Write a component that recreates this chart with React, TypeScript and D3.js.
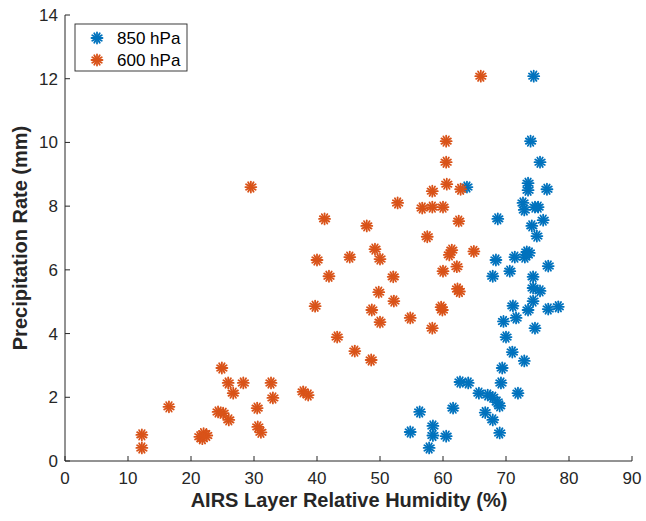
import React from "react";
import * as d3 from "d3";

const rh850: number[] = [74.4,73.9,75.4,63.8,73.5,73.5,76.5,72.7,72.9,74.6,75.1,68.7,75.9,74.1,74.9,73.3,73.0,73.7,71.4,68.4,76.7,70.6,67.9,74.3,74.3,75.4,74.3,73.5,71.1,76.7,78.3,69.6,71.6,74.6,70.0,71.0,72.9,69.4,69.2,62.7,64.0,71.9,65.7,67.1,67.9,68.6,69.0,61.6,56.3,66.7,67.9,54.8,58.4,58.4,60.5,69.0,57.8];
const pr850: number[] = [12.08,10.04,9.38,8.6,8.72,8.5,8.53,8.1,7.88,7.97,7.97,7.6,7.56,7.38,7.06,6.56,6.4,6.53,6.4,6.31,6.12,5.96,5.8,5.78,5.43,5.34,5.02,4.74,4.87,4.77,4.84,4.38,4.49,4.17,3.89,3.42,3.14,2.92,2.45,2.48,2.45,2.13,2.13,2.07,2.0,1.85,1.73,1.66,1.54,1.52,1.29,0.91,1.1,0.8,0.78,0.88,0.41];

const rh600: number[] = [66.0,60.5,60.5,60.6,58.3,62.8,29.5,52.8,56.7,58.3,60.0,62.5,41.2,47.9,57.5,61.4,61.0,64.9,49.2,50.0,40.0,45.2,41.9,52.1,60.0,62.2,49.8,52.2,48.7,50.0,62.3,62.6,59.7,59.9,54.8,58.3,39.7,43.2,46.0,48.6,37.8,38.6,24.9,25.9,26.7,28.3,32.7,33.0,16.5,24.3,25.1,26.0,30.5,30.6,31.1,21.4,22.0,22.5,21.8,12.2,12.2];
const pr600: number[] = [12.08,10.04,9.38,8.69,8.47,8.53,8.6,8.1,7.94,7.97,7.97,7.53,7.6,7.38,7.04,6.62,6.47,6.58,6.65,6.34,6.31,6.4,5.8,5.78,5.96,6.1,5.3,5.02,4.74,4.36,5.4,5.32,4.83,4.74,4.49,4.17,4.86,3.89,3.45,3.17,2.17,2.07,2.92,2.45,2.13,2.45,2.45,1.98,1.7,1.54,1.5,1.29,1.66,1.07,0.9,0.76,0.86,0.8,0.7,0.82,0.41];

const xTicks: number[] = [0,10,20,30,40,50,60,70,80,90];
const yTicks: number[] = [0,2,4,6,8,10,12,14];
const seriesNames: string[] = ["850 hPa", "600 hPa"];
const seriesColors: string[] = ["#0072BD", "#D95319"];

const W = 646, H = 521;
const x = d3.scaleLinear().domain([0, 90]).range([65, 632]);
const y = d3.scaleLinear().domain([0, 14]).range([461, 15]);
const axisColor = "#262626";
const font = "'Liberation Sans', Arial, Helvetica, sans-serif";

function Star({ cx, cy, color }: { cx: number; cy: number; color: string }) {
  const r = 5.5;
  const angles = d3.range(0, 180, 30);
  return (
    <g transform={`translate(${cx},${cy})`}>
      {angles.map((a) => {
        const rad = (a * Math.PI) / 180;
        const dx = r * Math.cos(rad), dy = r * Math.sin(rad);
        return <line key={a} x1={-dx} y1={-dy} x2={dx} y2={dy} stroke={color} strokeWidth={1.8} strokeLinecap="round" />;
      })}
    </g>
  );
}

export default function App() {
  const series = [
    { xs: rh850, ys: pr850 },
    { xs: rh600, ys: pr600 },
  ];
  const x0 = x.range()[0], x1 = x.range()[1];
  const y0 = y.range()[0], y1 = y.range()[1];
  return (
    <svg width={W} height={H} style={{ position: "absolute", left: 0, top: 0, background: "#fff" }} fontFamily={font}>
      <rect x={0} y={0} width={W} height={H} fill="#fff" />
      {series.map((s, si) => (
        <g key={si}>
          {s.xs.map((v, i) => (
            <Star key={i} cx={x(v)} cy={y(s.ys[i])} color={seriesColors[si]} />
          ))}
        </g>
      ))}
      <line x1={x0} y1={y0} x2={x1} y2={y0} stroke={axisColor} strokeWidth={1} />
      <line x1={x0} y1={y0} x2={x0} y2={y1} stroke={axisColor} strokeWidth={1} />
      {xTicks.map((t) => (
        <g key={"x" + t}>
          <line x1={x(t)} x2={x(t)} y1={y0} y2={y0 - 5} stroke={axisColor} strokeWidth={1} />
          <text x={x(t)} y={y0 + 23} textAnchor="middle" fontSize={17} fill={axisColor}>{t}</text>
        </g>
      ))}
      {yTicks.map((t) => (
        <g key={"y" + t}>
          <line x1={x0} x2={x0 + 5} y1={y(t)} y2={y(t)} stroke={axisColor} strokeWidth={1} />
          <text x={x0 - 7} y={y(t) + 6} textAnchor="end" fontSize={17} fill={axisColor}>{t}</text>
        </g>
      ))}
      <text x={349} y={507} textAnchor="middle" fontSize={20} fontWeight="bold" fill={axisColor}>
        AIRS Layer Relative Humidity (%)
      </text>
      <text transform="translate(27,238) rotate(-90)" textAnchor="middle" fontSize={20} fontWeight="bold" fill={axisColor}>
        Precipitation Rate (mm)
      </text>
      <rect x={75} y={24} width={112} height={47} fill="#fff" stroke={axisColor} strokeWidth={0.9} />
      {seriesNames.map((n, i) => (
        <g key={n}>
          <Star cx={97} cy={38 + i * 22} color={seriesColors[i]} />
          <text x={117} y={44 + i * 22} fontSize={17} fill="#000">{n}</text>
        </g>
      ))}
    </svg>
  );
}
